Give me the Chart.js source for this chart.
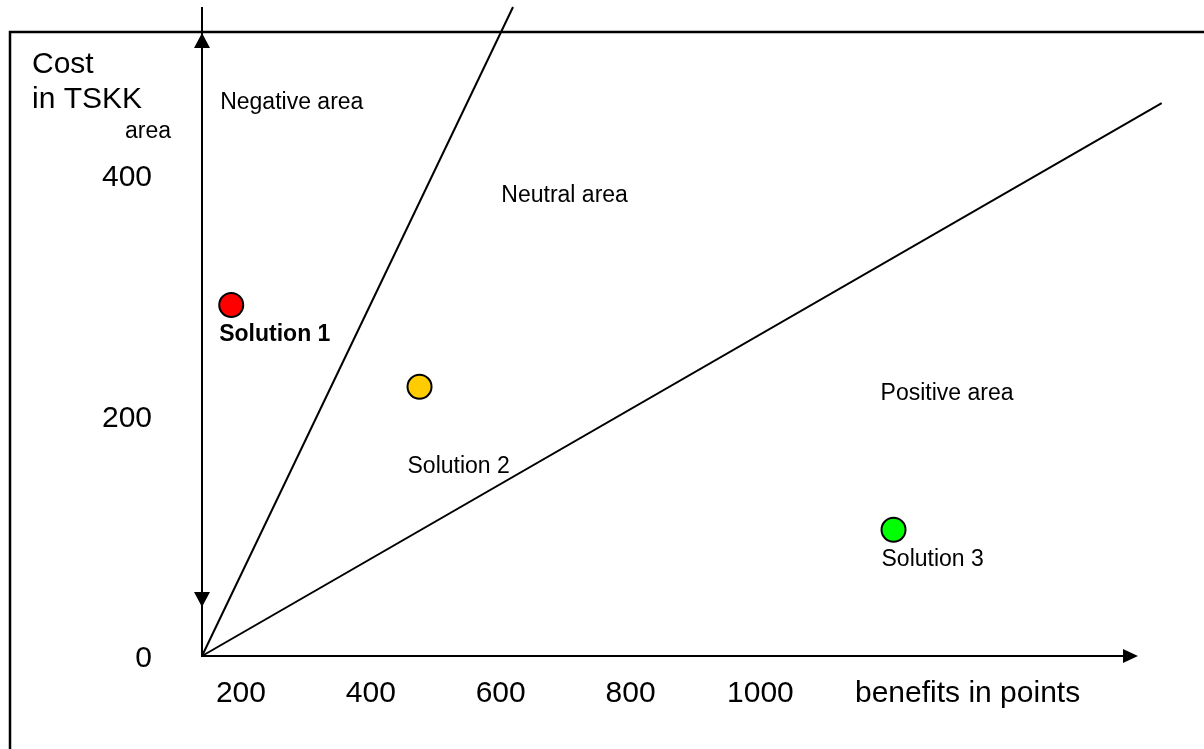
<!DOCTYPE html>
<html>
<head>
<meta charset="utf-8">
<title>Cost / benefit of solutions</title>
<script src="https://cdn.jsdelivr.net/npm/chart.js@4"></script>
<style>
    body { margin: 0; background: #ffffff; }
    canvas { display: block; }
</style>
</head>
<body>
<canvas id="costChart" width="1204" height="749"></canvas>
<script>
// solutions: benefit (points) and cost (TSKK)
const solutionNames = ['Solution 1', 'Solution 2', 'Solution 3'];
const solutionBenefits = [185, 475, 1205];
const solutionCosts = [292, 224, 105];
const solutionColors = ['#ff0000', '#ffcc00', '#00ff00'];

// boundary lines between the areas, from the origin
const upperLineBenefits = [140, 619];
const upperLineCosts = [0, 540];
const lowerLineBenefits = [140, 1618];
const lowerLineCosts = [0, 460];

// axis ticks
const xTickValues = [200, 400, 600, 800, 1000];
const yTickValues = [0, 200, 400];
const xMin = 140, xMax = 1620;
const yMin = 0, yMax = 540;

const FONT = '"Liberation Sans", Arial, sans-serif';

function toPoints(xs, ys) {
    return xs.map((x, i) => ({ x: x, y: ys[i] }));
}

function arrow(c, tipX, tipY, dir) {
    c.beginPath();
    c.moveTo(tipX, tipY);
    if (dir === 'up') { c.lineTo(tipX - 8, tipY + 15); c.lineTo(tipX + 8, tipY + 15); }
    if (dir === 'down') { c.lineTo(tipX - 8, tipY - 15); c.lineTo(tipX + 8, tipY - 15); }
    if (dir === 'right') { c.lineTo(tipX - 15, tipY - 7); c.lineTo(tipX - 15, tipY + 7); }
    c.closePath();
    c.fill();
}

const diagramPlugin = {
    id: 'diagram',
    beforeDatasetsDraw(chart) {
        const c = chart.ctx;
        const xs = chart.scales.x, ys = chart.scales.y;
        const ox = xs.getPixelForValue(xMin);
        const oy = ys.getPixelForValue(0);
        c.save();
        c.strokeStyle = '#000';
        c.fillStyle = '#000';
        // frame (top and left edge only visible)
        c.lineWidth = 2.5;
        c.beginPath();
        c.moveTo(1204, 32);
        c.lineTo(10, 32);
        c.lineTo(10, 749);
        c.stroke();
        // axes
        c.lineWidth = 2;
        c.beginPath();
        c.moveTo(ox, ys.getPixelForValue(yMax));
        c.lineTo(ox, oy);
        c.lineTo(1124, oy);
        c.stroke();
        arrow(c, ox, 33, 'up');
        arrow(c, ox, 607, 'down');
        arrow(c, 1138, oy, 'right');
        c.restore();
    },
    afterDatasetsDraw(chart) {
        const c = chart.ctx;
        const xs = chart.scales.x, ys = chart.scales.y;
        const ox = xs.getPixelForValue(xMin);
        c.save();
        c.fillStyle = '#000';
        c.textBaseline = 'alphabetic';

        // axis titles
        c.font = '30px ' + FONT;
        c.textAlign = 'left';
        c.fillText('Cost', 32, 73);
        c.fillText('in TSKK', 32, 108);
        c.fillText('benefits in points', 855, 702);
        c.font = '23px ' + FONT;
        c.fillText('area', 125, 138);

        // tick labels
        c.font = '30px ' + FONT;
        c.textAlign = 'right';
        yTickValues.forEach(v => {
            c.fillText(String(v), ox - 50, ys.getPixelForValue(v) + 11);
        });
        c.textAlign = 'center';
        xTickValues.forEach(v => {
            c.fillText(String(v), xs.getPixelForValue(v), 702);
        });

        // area labels
        c.font = '23px ' + FONT;
        c.textAlign = 'left';
        c.fillText('Negative area', xs.getPixelForValue(168), ys.getPixelForValue(455));
        c.fillText('Neutral area', xs.getPixelForValue(601), ys.getPixelForValue(378));
        c.fillText('Positive area', xs.getPixelForValue(1185), ys.getPixelForValue(213));

        // solution labels under the points
        const dy = [36, 86, 36];
        solutionNames.forEach((name, i) => {
            c.font = (i === 0 ? 'bold ' : '') + '23px ' + FONT;
            const px = xs.getPixelForValue(solutionBenefits[i]);
            const py = ys.getPixelForValue(solutionCosts[i]);
            c.fillText(name, px - 12, py + dy[i]);
        });
        c.restore();
    }
};

const chart = new Chart(document.getElementById('costChart').getContext('2d'), {
    type: 'scatter',
    data: {
        datasets: [{
            label: 'Solutions',
            data: toPoints(solutionBenefits, solutionCosts),
            pointRadius: 12,
            pointBackgroundColor: solutionColors,
            pointBorderColor: '#000',
            pointBorderWidth: 2,
            order: 0
        }, {
            label: 'Upper boundary',
            data: toPoints(upperLineBenefits, upperLineCosts),
            showLine: true,
            borderColor: '#000',
            borderWidth: 2,
            pointRadius: 0,
            clip: false,
            order: 1
        }, {
            label: 'Lower boundary',
            data: toPoints(lowerLineBenefits, lowerLineCosts),
            showLine: true,
            borderColor: '#000',
            borderWidth: 2,
            pointRadius: 0,
            clip: false,
            order: 1
        }]
    },
    options: {
        responsive: false,
        animation: false,
        devicePixelRatio: 1,
        layout: { autoPadding: false, padding: { left: 202, top: 7, right: 41, bottom: 93 } },
        plugins: {
            legend: { display: false },
            tooltip: { enabled: false }
        },
        scales: {
            x: { type: 'linear', min: xMin, max: xMax, display: false },
            y: { type: 'linear', min: yMin, max: yMax, display: false }
        }
    },
    plugins: [diagramPlugin]
});
</script>
</body>
</html>
